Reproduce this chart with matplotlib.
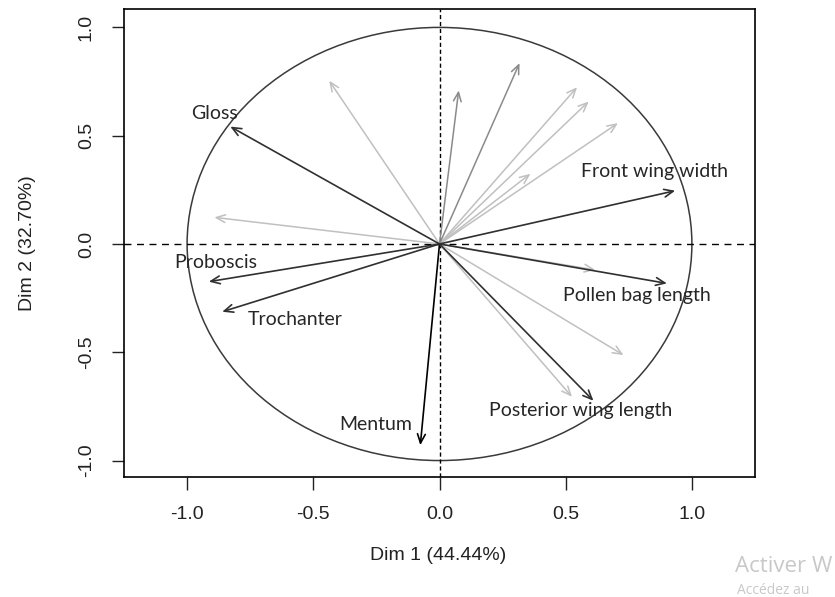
import numpy as np
import matplotlib.pyplot as plt
from matplotlib.patches import Ellipse

# labelled (dark) variables
var_names = ["Gloss", "Front wing width", "Proboscis", "Trochanter",
             "Mentum", "Pollen bag length", "Posterior wing length"]
var_x = [-0.829, 0.934, -0.914, -0.861, -0.076, 0.901, 0.610]
var_y = [0.542, 0.246, -0.174, -0.313, -0.929, -0.182, -0.724]
var_col = ["#303030", "#303030", "#303030", "#303030", "#000000", "#303030", "#303030"]
lab_x = [-0.89, 0.85, -0.888, -0.571, -0.254, 0.782, 0.558]
lab_y = [0.604, 0.334, -0.085, -0.348, -0.832, -0.236, -0.768]

# unlabelled (supplementary, grey) variables
sup_x = [-0.437, -0.892, 0.545, 0.591, 0.707, 0.36, 0.617, 0.729, 0.525, 0.076, 0.317]
sup_y = [0.754, 0.123, 0.724, 0.658, 0.558, 0.324, -0.12, -0.513, -0.706, 0.709, 0.835]
sup_col = ["#c0c0c0"] * 9 + ["#8a8a8a", "#8a8a8a"]

xticks = [-1.0, -0.5, 0.0, 0.5, 1.0]
yticks = [-1.0, -0.5, 0.0, 0.5, 1.0]

fig = plt.figure(figsize=(8.35, 5.97), dpi=100)
ax = fig.add_axes([124 / 835, 1 - 477 / 597, (755 - 124) / 835, (477 - 9) / 597])
ax.set_xlim(-1.25, 1.25)
ax.set_ylim(-1.076, 1.085)

ax.add_patch(Ellipse((0, 0), 2, 2, fill=False, edgecolor="#3a3a3a", lw=1.1))
ax.axhline(0, color="black", ls=(0, (5, 4)), lw=1)
ax.axvline(0, color="black", ls=(0, (3, 2)), lw=1)

for x, y, c in zip(sup_x, sup_y, sup_col):
    ax.annotate("", xy=(x, y), xytext=(0, 0),
                arrowprops=dict(arrowstyle="->,head_length=0.65,head_width=0.28",
                                color=c, lw=1.1, shrinkA=0, shrinkB=0))
for x, y, c in zip(var_x, var_y, var_col):
    ax.annotate("", xy=(x, y), xytext=(0, 0),
                arrowprops=dict(arrowstyle="->,head_length=0.65,head_width=0.28",
                                color=c, lw=1.2, shrinkA=0, shrinkB=0))
for name, x, y in zip(var_names, lab_x, lab_y):
    ax.text(x, y, name, ha="center", va="center", fontsize=14,
            family="Lato", color="#262626")

for s in ax.spines.values():
    s.set_linewidth(1.2)
ax.set_xticks(xticks)
ax.set_yticks(yticks)
ax.set_xticklabels([f"{t:.1f}" for t in xticks], family="Liberation Sans", fontsize=14)
ax.set_yticklabels([f"{t:.1f}" for t in yticks], family="Liberation Sans", fontsize=14,
                   rotation=90, va="center")
ax.tick_params(length=9, width=1, pad=12, color="#222222", labelcolor="#222222")

fig.text(438 / 835, 1 - 555 / 597, "Dim 1 (44.44%)", ha="center", va="center",
         family="Liberation Sans", fontsize=14, color="#222222")
fig.text(28 / 835, 1 - 243 / 597, "Dim 2 (32.70%)", ha="center", va="center",
         rotation=90, family="Liberation Sans", fontsize=14, color="#222222")

# faint watermark in the lower right corner of the screenshot
fig.text(735 / 835, 1 - 567 / 597, "Activer W", ha="left", va="center",
         family="Open Sans", fontsize=16, color="#c8c8c8")
fig.text(737 / 835, 1 - 590 / 597, "Accédez au", ha="left", va="center",
         family="Open Sans", fontsize=10, color="#c8c8c8")

fig.savefig("out.png", dpi=100)
